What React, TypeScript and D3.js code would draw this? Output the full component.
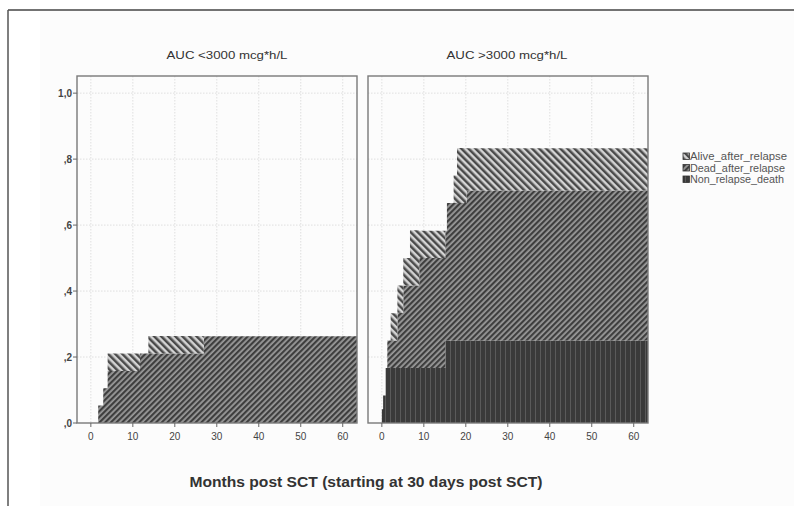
import React from "react";
import * as d3 from "d3";

// ---------- data ----------
const seriesKeys = ["NRM", "Dead", "Alive"];
const legendLabels = ["Alive_after_relapse", "Dead_after_relapse", "Non_relapse_death"];
const panelTitles = ["AUC <3000 mcg*h/L", "AUC >3000 mcg*h/L"];
const xTicks = [0, 10, 20, 30, 40, 50, 60];
const yTicks = [0, 0.2, 0.4, 0.6, 0.8, 1.0];
const yTickLabels = [",0", ",2", ",4", ",6", ",8", "1,0"];
const xAxisTitle = "Months post SCT (starting at 30 days post SCT)";

// Panel 1 (AUC < 3000): layer thicknesses at event times (step after)
const times1 = [0, 1.75, 2.95, 4.0, 11.7, 13.7, 26.9, 63.4];
const nrm1 = [0, 0, 0, 0, 0, 0, 0, 0];
const dead1 = [0, 0.053, 0.105, 0.158, 0.211, 0.211, 0.263, 0.263];
const alive1 = [0, 0, 0, 0.053, 0, 0.053, 0, 0];

// Panel 2 (AUC > 3000)
const times2 = [0, 0.3, 0.9, 1.3, 2.1, 3.7, 5.1, 6.7, 8.9, 15.1, 15.5, 17.1, 17.9, 20.2, 63.4];
const nrm2 = [0.042, 0.083, 0.167, 0.167, 0.167, 0.167, 0.167, 0.167, 0.167, 0.25, 0.25, 0.25, 0.25, 0.25, 0.25];
const dead2 = [0, 0, 0, 0.083, 0.083, 0.167, 0.25, 0.25, 0.333, 0.333, 0.417, 0.417, 0.417, 0.455, 0.455];
const alive2 = [0, 0, 0, 0, 0.083, 0.083, 0.083, 0.167, 0.083, 0, 0, 0.083, 0.167, 0.128, 0.128];

const FONT = "'Liberation Sans', Arial, sans-serif";

function buildRows(t: number[], n: number[], d: number[], a: number[]) {
  return t.map((tt, i) => ({ t: tt, NRM: n[i], Dead: d[i], Alive: a[i] }));
}

const panels = [
  { title: panelTitles[0], rows: buildRows(times1, nrm1, dead1, alive1), left: 77, titleX: 227, showY: true },
  { title: panelTitles[1], rows: buildRows(times2, nrm2, dead2, alive2), left: 368, titleX: 507, showY: false },
];

const fills: Record<string, string> = { NRM: "url(#pNRM)", Dead: "url(#pDead)", Alive: "url(#pAlive)" };

function Panel({ p }: { p: any }) {
  const top = 76, bottom = 423, width = 280;
  const x = d3.scaleLinear().domain([-3.3, 63.4]).range([p.left, p.left + width]);
  const y = d3.scaleLinear().domain([0, 1.052]).range([bottom, top]);
  const stack = d3.stack<any>().keys(seriesKeys);
  const layers = stack(p.rows);
  const area = d3
    .area<any>()
    .x((d) => x(d.data.t))
    .y0((d) => y(d[0]))
    .y1((d) => y(d[1]))
    .curve(d3.curveStepAfter);
  return (
    <g>
      <text x={p.titleX} y={59} textAnchor="middle" fontFamily={FONT} fontSize={11.5} fill="#333" textLength={121} lengthAdjust="spacingAndGlyphs">
        {p.title}
      </text>
      {xTicks.map((t) => (
        <line key={"gx" + t} x1={x(t)} x2={x(t)} y1={top} y2={bottom} stroke="#d8d8d8" strokeDasharray="1.5,1.5" strokeWidth={0.8} />
      ))}
      {yTicks.slice(1).map((t) => (
        <line key={"gy" + t} x1={p.left} x2={p.left + width} y1={y(t)} y2={y(t)} stroke="#d8d8d8" strokeDasharray="1.5,1.5" strokeWidth={0.8} />
      ))}
      {layers.map((l: any) => (
        <path key={l.key} d={area(l) || ""} fill={fills[l.key]} stroke="none" />
      ))}
      <rect x={p.left} y={top} width={width} height={bottom - top} fill="none" stroke="#7a7a7a" strokeWidth={1.4} />
      {xTicks.map((t) => (
        <g key={"xt" + t}>
          <line x1={x(t)} x2={x(t)} y1={bottom} y2={bottom + 4} stroke="#666" />
          <text x={x(t)} y={bottom + 17} textAnchor="middle" fontFamily={FONT} fontSize={10} fill="#444">
            {t}
          </text>
        </g>
      ))}
      {p.showY &&
        yTicks.map((t, i) => (
          <g key={"yt" + t}>
            <line x1={p.left - 4} x2={p.left} y1={y(t)} y2={y(t)} stroke="#666" />
            <text x={p.left - 5} y={y(t) + 3.5} textAnchor="end" fontFamily={FONT} fontSize={10} fontWeight="bold" fill="#444">
              {yTickLabels[i]}
            </text>
          </g>
        ))}
    </g>
  );
}

export default function App() {
  const legendKeys = ["Alive", "Dead", "NRM"];
  const legendLens = [97, 95, 94];
  return (
    <svg width={794} height={506} style={{ position: "absolute", left: 0, top: 0, background: "#fff" }}>
      <defs>
        <pattern id="pAlive" width={5} height={5} patternUnits="userSpaceOnUse" patternTransform="rotate(-45)">
          <rect width={5} height={5} fill="#d4d4d4" />
          <rect width={2.5} height={5} fill="#4a4a4a" />
        </pattern>
        <pattern id="pDead" width={4} height={4} patternUnits="userSpaceOnUse" patternTransform="rotate(45)">
          <rect width={4} height={4} fill="#9a9a9a" />
          <rect width={2.2} height={4} fill="#3e3e3e" />
        </pattern>
        <pattern id="pNRM" width={5} height={5} patternUnits="userSpaceOnUse">
          <rect width={5} height={5} fill="#3a3a3a" />
          <rect width={1} height={5} fill="#5a5a5a" />
        </pattern>
      </defs>
      <rect x={40} y={11} width={754} height={495} fill="#fcfcfc" />
      <line x1={8} x2={794} y1={10} y2={10} stroke="#444" strokeWidth={1.5} />
      <line x1={8} x2={8} y1={10} y2={506} stroke="#555" strokeWidth={1.5} />
      {panels.map((p, i) => (
        <Panel key={i} p={p} />
      ))}
      {legendKeys.map((k, i) => (
        <g key={k}>
          <rect x={683} y={153 + i * 11.5} width={6.5} height={6.5} fill={fills[k]} stroke="#333" strokeWidth={0.8} />
          <text x={690} y={160 + i * 11.5} fontFamily={FONT} fontSize={10} fill="#555" textLength={legendLens[i]} lengthAdjust="spacingAndGlyphs">
            {legendLabels[i]}
          </text>
        </g>
      ))}
      <text x={366} y={487} textAnchor="middle" fontFamily={FONT} fontSize={15} fontWeight="bold" fill="#333" textLength={353} lengthAdjust="spacingAndGlyphs">
        {xAxisTitle}
      </text>
    </svg>
  );
}
